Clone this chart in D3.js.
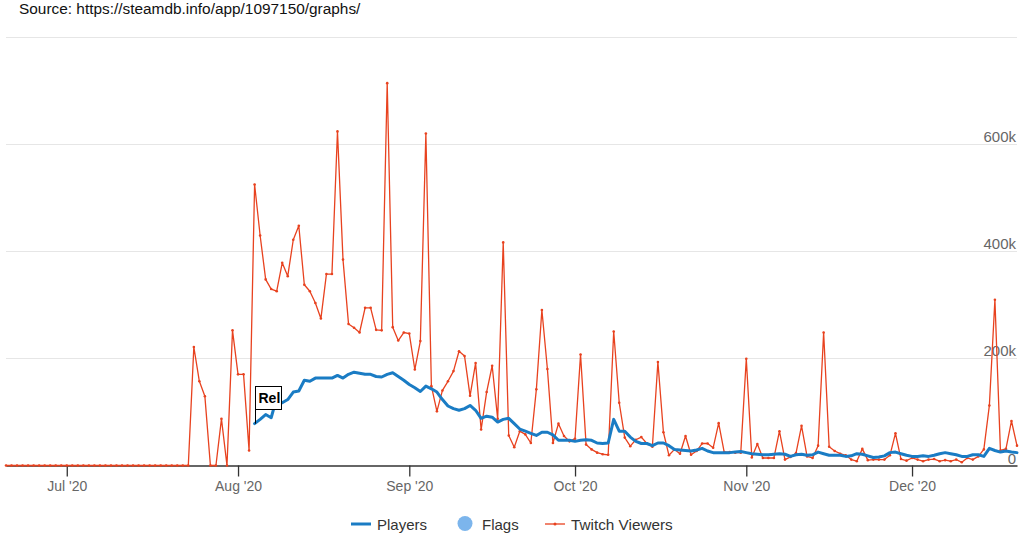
<!DOCTYPE html>
<html><head><meta charset="utf-8">
<script src="https://cdn.jsdelivr.net/npm/d3@7"></script>
<style>body{margin:0;background:#fff;} svg{display:block;font-family:"Liberation Sans",Arial,Helvetica,sans-serif;}</style>
</head><body><svg id="c" width="1024" height="538"></svg>
<script>
const sourceText = "Source: https://steamdb.info/app/1097150/graphs/";

// Twitch viewers (thousands), one value per day starting at twitchStart
const twitchStart = "2020-06-20";
const twitchViewers = [
  0,0,0,0,0,0,0,0,0,0,0,0,0,0,0,0,0,0,0,0,0,0,0,0,0,0,0,0,0,0,0,0,0,0,
  221,157,129,0,0,87,0,252,170,170,
  28,524,429,347,329,325,378,353,421,447,
  337,325,303,274,357,357,623,384,264,257,
  248,294,294,253,252,713,258,233,248,246,
  179,232,619,148,101,140,157,176,213,204,
  130,191,67,137,186,87,416,56,34,64,
  58,42,142,290,180,42,78,55,45,50,
  207,39,30,24,21,20,250,117,52,36,
  48,53,41,35,193,62,19,30,22,55,
  20,27,41,41,33,79,25,25,24,24,
  199,15,40,14,14,14,64,11,16,23,
  74,17,14,37,248,35,27,22,19,11,
  8,31,10,11,11,11,19,60,12,9,
  14,11,8,11,12,8,10,8,11,6,
  14,11,17,30,112,309,28,31,83,37
];

// Players (thousands), one value per day starting at playersStart
const playersStart = "2020-08-04";
const players = [
  78,86,95,89,126,117,123,137,139,159,
  157,163,163,163,163,168,163,170,174,172,
  170,170,166,165,170,173,166,159,151,145,
  138,148,143,137,123,111,106,103,106,112,
  103,88,92,90,81,86,88,78,68,64,
  60,56,62,62,57,47,47,47,45,47,
  48,47,42,41,42,86,64,64,53,45,
  41,41,37,42,42,37,30,29,28,27,
  29,32,27,24,24,24,24,25,26,24,
  22,21,20,20,21,22,21,17,20,21,
  19,20,25,22,19,19,19,17,18,22,
  21,18,15,16,18,24,25,22,19,17,
  17,18,17,19,22,24,22,20,17,17,
  20,20,17,32,28,25,27,25,24
];

const flagDates = ["2020-08-04"];
const flagTitles = ["Rel"];

const xTickDates = ["2020-07-01","2020-08-01","2020-09-01","2020-10-01","2020-11-01","2020-12-01"];
const xTickLabels = ["Jul '20","Aug '20","Sep '20","Oct '20","Nov '20","Dec '20"];
const yTickValues = [0, 200, 400, 600, 800];
const yTickLabels = ["0", "200k", "400k", "600k", ""];
const legendLabels = ["Players", "Flags", "Twitch Viewers"];

const colors = { players: "#1a7cc4", flags: "#7cb5ec", twitch: "#e8421f" };

const parse = d3.utcParse("%Y-%m-%d");
const svg = d3.select("#c");

const tStart = parse(twitchStart);
const twitchData = twitchViewers.map((v, i) => ({ date: d3.utcDay.offset(tStart, i), v }));
const pStart = parse(playersStart);
const playerData = players.map((v, i) => ({ date: d3.utcDay.offset(pStart, i), v }));

const x = d3.scaleUtc()
  .domain([twitchData[0].date, twitchData[twitchData.length - 1].date])
  .range([6, 1017]);
const y = d3.scaleLinear().domain([0, 800]).range([465.5, 36.5]);

// source
svg.append("text").attr("x", 19).attr("y", 14).attr("font-size", 15.4).attr("fill", "#111").text(sourceText);

// grid
const gridG = svg.append("g");
yTickValues.filter(v => v > 0).forEach(v => {
  gridG.append("line").attr("x1", 6).attr("x2", 1017)
    .attr("y1", Math.round(y(v)) + 0.5).attr("y2", Math.round(y(v)) + 0.5)
    .attr("stroke", "#e6e6e6").attr("stroke-width", 1);
});

// y labels (right, above grid line)
yTickValues.forEach((v, i) => {
  svg.append("text").attr("x", 1016).attr("y", y(v) - 2)
    .attr("text-anchor", "end").attr("font-size", 15).attr("fill", "#666")
    .text(yTickLabels[i]);
});

// x axis
const xAxis = d3.axisBottom(x)
  .tickValues(xTickDates.map(parse))
  .tickFormat((d, i) => xTickLabels[i])
  .tickSizeInner(11).tickSizeOuter(0).tickPadding(5);
const xg = svg.append("g").attr("transform", `translate(0,${y(0)})`).call(xAxis);
xg.select(".domain").attr("stroke", "#333").attr("stroke-width", 1.3);
xg.selectAll(".tick line").attr("stroke", "#333").attr("stroke-width", 1.3);
xg.selectAll(".tick text").attr("font-size", 14).attr("fill", "#666")
  .attr("font-family", "Liberation Sans, Arial, sans-serif");

// twitch line
const line = d3.line().x(d => x(d.date)).y(d => y(d.v));
svg.append("path").datum(twitchData).attr("d", line)
  .attr("fill", "none").attr("stroke", colors.twitch).attr("stroke-width", 1.3)
  .attr("stroke-linejoin", "round");
svg.append("g").selectAll("circle").data(twitchData).join("circle")
  .attr("cx", d => x(d.date)).attr("cy", d => y(d.v)).attr("r", 1.3)
  .attr("fill", colors.twitch);

// players line
svg.append("path").datum(playerData).attr("d", line)
  .attr("fill", "none").attr("stroke", colors.players).attr("stroke-width", 3)
  .attr("stroke-linejoin", "round").attr("stroke-linecap", "round");

// flags
flagDates.forEach((fd, i) => {
  const dt = parse(fd);
  const pt = playerData.find(p => +p.date === +dt);
  const fx = Math.round(x(dt)) + 0.5;
  const fy = y(pt.v);
  const boxBottom = fy - 15, boxH = 23, boxW = 26;
  const g = svg.append("g");
  g.append("line").attr("x1", fx).attr("x2", fx).attr("y1", boxBottom).attr("y2", fy)
    .attr("stroke", "#000").attr("stroke-width", 1);
  g.append("rect").attr("x", fx).attr("y", Math.round(boxBottom - boxH) + 0.5)
    .attr("width", boxW).attr("height", boxH)
    .attr("fill", "#fff").attr("stroke", "#000").attr("stroke-width", 1);
  svg.append("clipPath").attr("id", "fc" + i).append("rect")
    .attr("x", fx + 1).attr("y", boxBottom - boxH).attr("width", boxW - 2).attr("height", boxH);
  g.append("text").attr("x", fx + 3).attr("y", boxBottom - 5.5)
    .attr("clip-path", `url(#fc${i})`)
    .attr("font-size", 14).attr("font-weight", "bold").attr("fill", "#000")
    .text(flagTitles[i]);
});

// legend
const ly = 524;
const lg = svg.append("g");
lg.append("line").attr("x1", 351).attr("x2", 371).attr("y1", ly).attr("y2", ly)
  .attr("stroke", colors.players).attr("stroke-width", 3);
lg.append("text").attr("x", 377).attr("y", ly + 5.5).attr("font-size", 15).attr("fill", "#333").text(legendLabels[0]);
lg.append("circle").attr("cx", 465).attr("cy", ly - 0.5).attr("r", 7.5).attr("fill", colors.flags);
lg.append("text").attr("x", 482).attr("y", ly + 5.5).attr("font-size", 15).attr("fill", "#333").text(legendLabels[1]);
lg.append("line").attr("x1", 545).attr("x2", 565).attr("y1", ly).attr("y2", ly)
  .attr("stroke", colors.twitch).attr("stroke-width", 1.3);
lg.append("circle").attr("cx", 555).attr("cy", ly).attr("r", 1.5).attr("fill", colors.twitch);
lg.append("text").attr("x", 571).attr("y", ly + 5.5).attr("font-size", 15.3).attr("fill", "#333").text(legendLabels[2]);
</script>
</body></html>
